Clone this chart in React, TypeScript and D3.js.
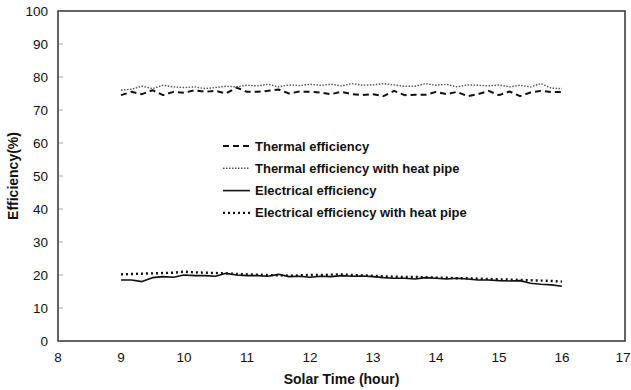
import React, { useEffect, useRef } from "react";
import * as d3 from "d3";

// sampling times (hour), every 10 minutes from 9:00 to 16:00
const times = d3.range(0, 43).map((i) => 9 + i / 6);

const thermal = [
  74.5, 75.5, 74.8, 76, 74.5, 75.5, 75.2, 76, 75.5, 75.8, 75, 76.8, 75.5, 75.5,
  75.8, 76.2, 75, 75.6, 75.5, 75.3, 74.8, 75.5, 74.8, 74.5, 74.8, 74.2, 75.8,
  74.5, 74.6, 74.6, 75.5, 74.8, 75.5, 74.2, 74.8, 75.8, 74.5, 75.6, 74.2, 75.3,
  75.8, 75.4, 75.5,
];

const thermalHP = [
  76, 76.3, 77.2, 76.5, 77.5, 77, 76.8, 77, 76.5, 76.8, 77.2, 77, 77.5, 77.3,
  77.8, 77, 77.6, 77.4, 77.8, 77.5, 77.8, 77.3, 78, 77.5, 77.6, 78, 77.6, 77.2,
  77.2, 78, 77.5, 77.8, 77, 77.6, 77.5, 77.3, 77.6, 77, 77.5, 77, 78, 76.6, 76.5,
];

const electrical = [
  18.5, 18.5, 18, 19.2, 19.5, 19.3, 20, 19.8, 19.8, 19.6, 20.5, 20, 19.8, 19.8,
  19.6, 20.2, 19.5, 19.6, 19.3, 19.6, 19.5, 19.8, 19.6, 19.7, 19.5, 19.2, 19,
  19, 18.8, 19.2, 19, 18.8, 19, 18.8, 18.5, 18.5, 18.3, 18.2, 18.3, 17.5, 17.2,
  17, 16.6,
];

const electricalHP = [
  20.2, 20.3, 20.4, 20.5, 20.6, 20.7, 21, 20.8, 20.7, 20.6, 20.5, 20.3, 20.2,
  20.1, 20, 19.9, 19.8, 19.9, 20, 20, 20.1, 20.2, 20, 19.9, 19.8, 19.6, 19.5,
  19.4, 19.4, 19.3, 19.2, 19.2, 19, 19, 18.9, 18.8, 18.7, 18.6, 18.5, 18.4,
  18.3, 18.2, 18,
];

const xTicks = [8, 9, 10, 11, 12, 13, 14, 15, 16, 17];
const yTicks = [0, 10, 20, 30, 40, 50, 60, 70, 80, 90, 100];

const series = [
  { name: "Thermal efficiency", values: thermal, stroke: "#111", width: 2, dash: "6,4" },
  { name: "Thermal efficiency with heat pipe", values: thermalHP, stroke: "#555", width: 1.4, dash: "1.5,1.5" },
  { name: "Electrical efficiency", values: electrical, stroke: "#111", width: 1.6, dash: null },
  { name: "Electrical efficiency with heat pipe", values: electricalHP, stroke: "#111", width: 2.4, dash: "2,3" },
];

const App = () => {
  const ref = useRef<SVGSVGElement>(null);

  useEffect(() => {
    const svg = d3.select(ref.current);
    svg.selectAll("*").remove();

    const width = 631;
    const height = 390;
    const left = 58;
    const right = 625;
    const top = 11;
    const bottom = 341;
    const font = "Liberation Sans, Arial, sans-serif";

    svg.attr("width", width).attr("height", height);

    const x = d3.scaleLinear().domain([8, 17]).range([left, right]);
    const y = d3.scaleLinear().domain([0, 100]).range([bottom, top]);

    // y ticks (inward, gray)
    svg
      .append("g")
      .selectAll("line")
      .data(yTicks.slice(1, -1))
      .join("line")
      .attr("x1", left)
      .attr("x2", left + 5)
      .attr("y1", (d) => y(d))
      .attr("y2", (d) => y(d))
      .attr("stroke", "#aaa")
      .attr("stroke-width", 1);

    // frame
    svg
      .append("rect")
      .attr("x", left)
      .attr("y", top)
      .attr("width", right - left)
      .attr("height", bottom - top)
      .attr("fill", "none")
      .attr("stroke", "#333")
      .attr("stroke-width", 1.5);

    // y labels
    svg
      .append("g")
      .selectAll("text")
      .data(yTicks)
      .join("text")
      .attr("x", 48)
      .attr("y", (d) => y(d))
      .attr("dy", "0.35em")
      .attr("text-anchor", "end")
      .attr("font-family", font)
      .attr("font-size", 13.5)
      .attr("fill", "#111")
      .text((d) => d);

    // x labels (last one nudged so it stays inside the window)
    svg
      .append("g")
      .selectAll("text")
      .data(xTicks)
      .join("text")
      .attr("x", (d) => x(d) - (d === 17 ? 2 : 0))
      .attr("y", 362)
      .attr("text-anchor", "middle")
      .attr("font-family", font)
      .attr("font-size", 13.5)
      .attr("fill", "#111")
      .text((d) => d);

    // axis titles
    svg
      .append("text")
      .attr("x", (left + right) / 2)
      .attr("y", 384)
      .attr("text-anchor", "middle")
      .attr("font-family", font)
      .attr("font-size", 14)
      .attr("font-weight", "bold")
      .attr("fill", "#111")
      .text("Solar Time (hour)");

    svg
      .append("text")
      .attr("transform", `translate(18,${(top + bottom) / 2}) rotate(-90)`)
      .attr("text-anchor", "middle")
      .attr("font-family", font)
      .attr("font-size", 14)
      .attr("font-weight", "bold")
      .attr("fill", "#111")
      .text("Efficiency(%)");

    // lines
    const line = d3
      .line<number>()
      .x((_, i) => x(times[i]))
      .y((d) => y(d));

    svg
      .append("g")
      .attr("fill", "none")
      .selectAll("path")
      .data(series)
      .join("path")
      .attr("d", (s) => line(s.values))
      .attr("stroke", (s) => s.stroke)
      .attr("stroke-width", (s) => s.width)
      .attr("stroke-dasharray", (s) => s.dash)
      .attr("stroke-linejoin", "round");

    // legend
    const legend = svg
      .append("g")
      .selectAll("g")
      .data(series)
      .join("g")
      .attr("transform", (_, i) => `translate(223,${146 + i * 22.3})`);

    legend
      .append("line")
      .attr("x1", 0)
      .attr("x2", 27)
      .attr("stroke", (s) => s.stroke)
      .attr("stroke-width", (s) => s.width)
      .attr("stroke-dasharray", (s) => s.dash);

    legend
      .append("text")
      .attr("x", 32)
      .attr("dy", "0.35em")
      .attr("font-family", font)
      .attr("font-size", 13)
      .attr("font-weight", "bold")
      .attr("fill", "#111")
      .text((s) => s.name);
  }, []);

  return (
    <svg
      ref={ref}
      style={{ position: "absolute", left: 0, top: 0, background: "#fff" }}
    ></svg>
  );
};

export default App;
